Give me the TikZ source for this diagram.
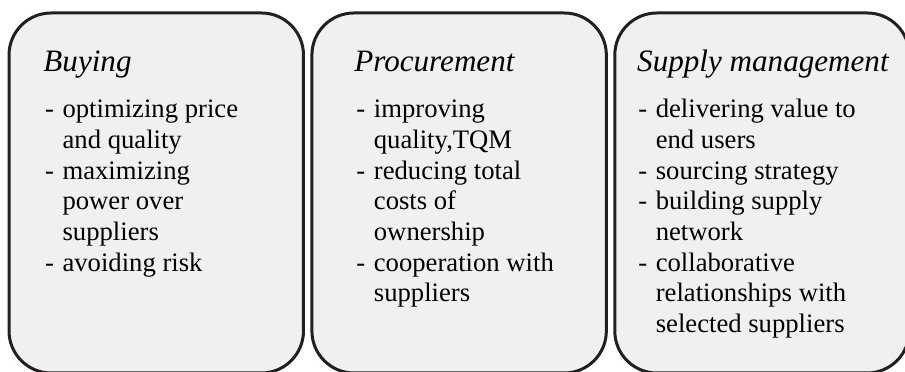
\documentclass[tikz,border=0pt]{standalone}
\usepackage{fontspec}
\setmainfont{Liberation Serif}
\usetikzlibrary{positioning,calc}
\definecolor{panelfill}{RGB}{240,240,240}
\definecolor{panelline}{RGB}{35,31,32}
\tikzset{
    panel/.style = {draw=panelline, fill=panelfill, rectangle,
        rounded corners=18.9pt, line width=1.35pt,
        minimum width=132.5pt, minimum height=162pt,
        inner sep=0pt, outer sep=0pt},
    heading/.style = {anchor=base west, inner sep=0pt,
        font=\fontsize{14}{16}\selectfont\itshape},
    points/.style = {anchor=base west, inner sep=0pt,
        font=\fontsize{12}{13.8}\selectfont}
}
% list with a hanging dash
\newenvironment{dashlist}{\begin{tabular}[t]{@{}p{7.9pt}@{}l@{}}}{\end{tabular}}

\begin{document}
\begin{tikzpicture}[node distance=3.8pt]
    \useasboundingbox (0,0) rectangle (407.25pt,167.4pt);
    % the three panels
    \node [panel] at (70.31pt,80.55pt) (buying) {};
    \node [panel, right=of buying] (procure) {};
    \node [panel, right=of procure] (supply) {};
    % headings
    \node [heading] at ($(buying.north west)+(15.3pt,-26.4pt)$) (buyinghead) {Buying};
    \node [heading] at ($(procure.north west)+(18.9pt,-26.4pt)$) (procurehead) {Procurement};
    \node [heading] at ($(supply.north west)+(9.9pt,-26.4pt)$) (supplyhead) {Supply management};
    % points
    \node [points] at ($(buying.north west)+(16.0pt,-47.25pt)$) (buyinglist) {%
        \begin{dashlist}
        - & optimizing price\\
          & and quality\\
        - & maximizing\\
          & power over\\
          & suppliers\\
        - & avoiding risk
        \end{dashlist}};
    \node [points] at ($(procure.north west)+(19.8pt,-47.25pt)$) (procurelist) {%
        \begin{dashlist}
        - & improving\\
          & quality,TQM\\
        - & reducing total\\
          & costs of\\
          & ownership\\
        - & cooperation with\\
          & suppliers
        \end{dashlist}};
    \node [points] at ($(supply.north west)+(10.35pt,-47.25pt)$) (supplylist) {%
        \begin{dashlist}
        - & delivering value to\\
          & end users\\
        - & sourcing strategy\\
        - & building supply\\
          & network\\
        - & collaborative\\
          & relationships with\\
          & selected suppliers
        \end{dashlist}};
\end{tikzpicture}
\end{document}
